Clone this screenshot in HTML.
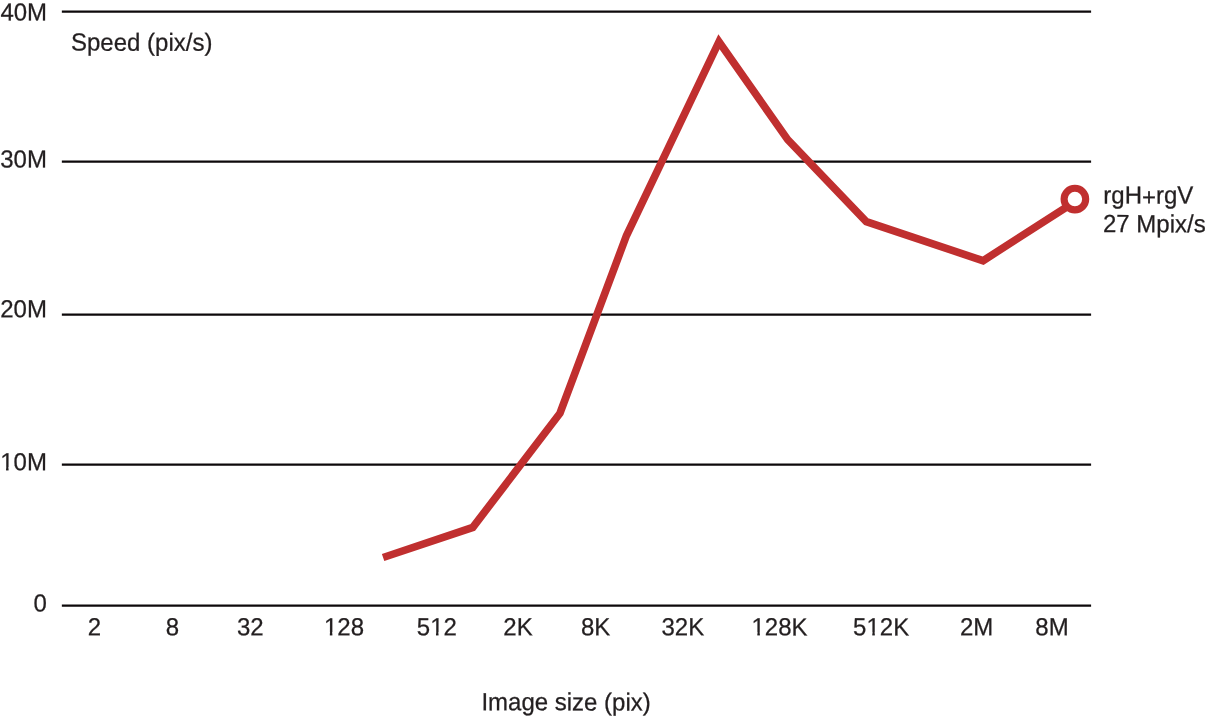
<!DOCTYPE html>
<html>
<head>
<meta charset="utf-8">
<title>Speed vs image size</title>
<style>
html,body{margin:0;padding:0;background:#fff;}
body{width:1206px;height:722px;overflow:hidden;}
svg{display:block;}
text{font-family:"Liberation Sans",Arial,Helvetica,sans-serif;font-size:24px;fill:#231f20;stroke:#231f20;stroke-width:0.25px;}
</style>
</head>
<body>
<svg width="1206" height="722" viewBox="0 0 1206 722">
<rect width="1206" height="722" fill="#ffffff"/>
<g stroke="#0d090a" stroke-width="2.25" fill="none">
<line x1="61.85" y1="11.6" x2="1091.1" y2="11.6"/>
<line x1="61.85" y1="161.55" x2="1091.1" y2="161.55"/>
<line x1="61.85" y1="314.55" x2="1091.1" y2="314.55"/>
<line x1="61.85" y1="464.55" x2="1091.1" y2="464.55"/>
<line x1="61.85" y1="605.55" x2="1091.1" y2="605.55"/>
</g>
<g>
<text transform="translate(0.4 20.4) rotate(0.05) scale(1 1.03)">40M</text>
<text transform="translate(0.2 167.6) rotate(0.05) scale(1 1.03)">30M</text>
<text transform="translate(0.2 317.3) rotate(0.05) scale(1 1.03)">20M</text>
<text transform="translate(0.2 470.3) rotate(0.05) scale(1 1.03)">10M</text>
<text transform="translate(33.4 611.6) rotate(0.05) scale(1 1.03)">0</text>
<text transform="translate(71 50.6) rotate(0.05) scale(1 1.03)">Speed (pix/s)</text>
<text transform="translate(87.8 635.35) rotate(0.05) scale(1 1.03)">2</text>
<text transform="translate(165.8 635.35) rotate(0.05) scale(1 1.03)">8</text>
<text transform="translate(237 635.35) rotate(0.05) scale(1 1.03)">32</text>
<text transform="translate(324 635.35) rotate(0.05) scale(1 1.03)">128</text>
<text transform="translate(416.8 635.35) rotate(0.05) scale(1 1.03)">512</text>
<text transform="translate(503.3 635.35) rotate(0.05) scale(1 1.03)">2K</text>
<text transform="translate(581 635.35) rotate(0.05) scale(1 1.03)">8K</text>
<text transform="translate(661.5 635.35) rotate(0.05) scale(1 1.03)">32K</text>
<text transform="translate(751.5 635.35) rotate(0.05) scale(1 1.03)">128K</text>
<text transform="translate(853.1 635.35) rotate(0.05) scale(1 1.03)">512K</text>
<text transform="translate(960 635.35) rotate(0.05) scale(1 1.03)">2M</text>
<text transform="translate(1035.3 635.35) rotate(0.05) scale(1 1.03)">8M</text>
<text transform="translate(481.4 710.3) rotate(0.05) scale(1 1.03)">Image size (pix)</text>
<text transform="translate(1103.3 203.5) rotate(0.05) scale(1 1.03)">rgH<tspan dy="2">+</tspan><tspan dy="-2">rgV</tspan></text>
<text transform="translate(1103 232.1) rotate(0.05) scale(1 1.03)">27 Mpix/s</text>
</g>
<g fill="#ffffff">
<rect x="0.70" y="467.10" width="5.33" height="5"/><rect x="8.57" y="467.10" width="4.83" height="5"/>
<rect x="324.50" y="632.15" width="5.33" height="5"/><rect x="332.37" y="632.15" width="4.83" height="5"/>
<rect x="430.65" y="632.15" width="5.33" height="5"/><rect x="438.52" y="632.15" width="4.83" height="5"/>
<rect x="752.00" y="632.15" width="5.33" height="5"/><rect x="759.87" y="632.15" width="4.83" height="5"/>
<rect x="866.95" y="632.15" width="5.33" height="5"/><rect x="874.82" y="632.15" width="4.83" height="5"/>
</g>
<polyline fill="none" stroke="#c02f2f" stroke-width="7.6" stroke-linejoin="miter" stroke-miterlimit="10" stroke-linecap="butt"
 points="383.1,557.5 472.8,527.4 560,413.2 626.5,235.5 719,41.7 787.7,139.7 866.3,221.7 983.1,260.7 1074.9,201.7"/>
<circle cx="1074.9" cy="199.1" r="10.8" fill="#ffffff" stroke="#c02f2f" stroke-width="7.1"/>
</svg>
</body>
</html>
